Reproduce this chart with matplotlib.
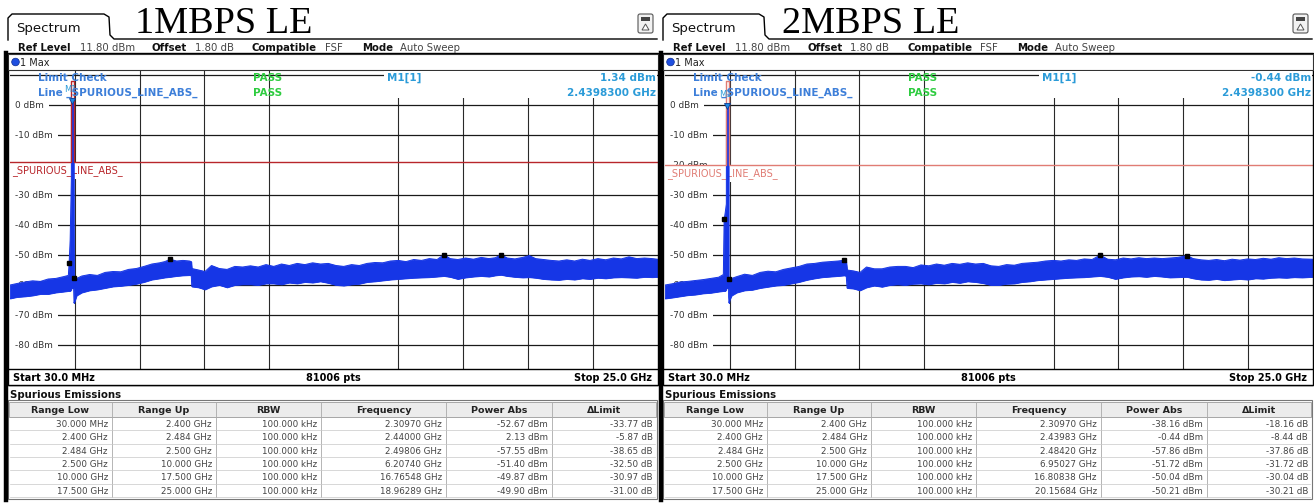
import numpy as np
import matplotlib
matplotlib.use("Agg")
import matplotlib.pyplot as plt
from matplotlib.patches import Rectangle, FancyBboxPatch, Polygon, Circle

W, H = 1314, 503

f_start, f_stop = 0.03, 25.0      # GHz
ref_level, y_bottom = 11.8, -88.2   # dBm
titles = ["1MBPS LE", "2MBPS LE"]
limit_abs = [-18.9, -20.0]
limit_inband = 8.0
band_lo, band_hi = 2.400, 2.484
m1_freq = [2.43983, 2.43983]
m1_power = [1.34, -0.44]

# max-hold trace envelope, 1 Mbps (GHz, lower dBm, upper dBm)
env1_f = [0.03, 0.30, 0.60, 0.90, 1.20, 1.50, 1.80, 2.10, 2.28, 2.31, 2.35, 2.395,
          2.40, 2.42, 2.44, 2.46, 2.484, 2.49, 2.498, 2.52, 2.60, 2.80, 3.10, 3.40,
          3.70, 4.00, 4.30, 4.60, 4.90, 5.20, 5.50, 5.80, 6.00, 6.2074, 6.45, 6.70,
          6.95, 7.02, 7.04, 7.30, 7.55, 7.80, 8.10, 8.40, 8.70, 9.00, 9.30, 9.60,
          9.90, 10.20, 10.50, 10.80, 11.10, 11.40, 11.70, 12.00, 12.30, 12.60, 12.90,
          13.20, 13.50, 13.80, 14.10, 14.40, 14.70, 15.00, 15.30, 15.60, 15.90, 16.20,
          16.50, 16.7655, 17.00, 17.30, 17.60, 17.90, 18.20, 18.50, 18.75, 18.9629,
          19.20, 19.50, 19.80, 20.05, 20.30, 20.60, 20.90, 21.20, 21.50, 21.80, 22.10,
          22.40, 22.70, 23.00, 23.30, 23.60, 23.90, 24.20, 24.50, 24.80, 25.00]
env1_lo = [-64.5, -64.0, -63.8, -63.5, -63.0, -63.0, -62.5, -62.2, -62.0, -62.0, -62.0, -61.5,
           -61.0, -61.0, -61.0, -61.0, -61.0, -63.0, -66.0, -65.5, -63.5, -62.5, -61.8, -61.5,
           -61.0, -60.5, -60.3, -60.0, -59.6, -59.0, -58.2, -57.8, -57.5, -57.3, -57.0, -56.8,
           -56.7, -56.8, -60.5, -60.8, -61.5, -60.5, -60.0, -60.8, -60.0, -59.8, -59.8, -60.0,
           -59.5, -59.5, -59.8, -59.2, -59.5, -59.0, -59.2, -58.8, -59.3, -60.0, -60.2,
           -59.8, -59.6, -59.0, -58.8, -58.5, -58.2, -58.0, -57.8, -57.6, -57.5, -57.4,
           -57.2, -57.0, -57.3, -58.0, -57.5, -57.2, -57.0, -57.2, -56.8, -56.6,
           -57.0, -57.3, -57.5, -57.4, -57.6, -58.0, -58.2, -58.3, -58.0, -58.2, -57.8,
           -58.0, -57.6, -57.8, -57.5, -57.4, -57.5, -57.6, -57.3, -57.4, -57.3]
env1_hi = [-60.0, -59.5, -59.0, -58.6, -58.8, -58.0, -57.8, -57.2, -56.8, -52.67, -45.0, -25.0,
           0.0, 1.5, 2.13, 1.5, 0.0, -40.0, -57.55, -58.0, -57.8, -57.0, -56.5, -56.8,
           -55.8, -55.5, -55.6, -54.8, -54.5, -53.8, -53.0, -52.6, -52.2, -51.40, -52.0, -51.8,
           -52.0, -52.2, -54.5, -55.0, -55.5, -53.5, -54.5, -54.8, -53.8, -54.0, -53.6, -54.0,
           -53.2, -53.8, -53.0, -53.5, -52.8, -53.2, -52.6, -53.0, -52.8, -53.5, -53.8,
           -53.2, -53.5, -52.8, -52.5, -52.6, -52.0, -51.8, -52.2, -51.5, -51.8, -51.2,
           -51.5, -49.87, -51.2, -51.5, -51.0, -51.4, -50.8, -51.2, -50.9, -49.90,
           -51.0, -51.3, -50.8, -50.2, -51.2, -51.5, -51.8, -52.0, -51.6, -52.0, -51.4,
           -51.8, -51.2, -51.6, -51.0, -51.3, -50.6, -51.2, -51.0, -51.2, -51.4]

# max-hold trace envelope, 2 Mbps
env2_f = [0.03, 0.30, 0.60, 0.90, 1.20, 1.50, 1.80, 2.10, 2.28, 2.3097, 2.35, 2.395,
          2.40, 2.42, 2.43983, 2.46, 2.482, 2.4842, 2.50, 2.52, 2.60, 2.80, 3.10, 3.40,
          3.70, 4.00, 4.30, 4.60, 4.90, 5.20, 5.50, 5.80, 6.10, 6.40, 6.70, 6.95027,
          7.02, 7.05, 7.30, 7.55, 7.80, 8.10, 8.40, 8.70, 9.00, 9.30, 9.60, 9.90,
          10.20, 10.50, 10.80, 11.10, 11.40, 11.70, 12.00, 12.30, 12.60, 12.90, 13.20,
          13.50, 13.80, 14.10, 14.40, 14.70, 15.00, 15.30, 15.60, 15.90, 16.20, 16.50,
          16.80838, 17.10, 17.40, 17.70, 18.00, 18.30, 18.60, 18.90, 19.20, 19.50,
          19.80, 20.15684, 20.40, 20.70, 21.00, 21.30, 21.60, 21.90, 22.20, 22.50,
          22.80, 23.10, 23.40, 23.70, 24.00, 24.30, 24.60, 25.00]
env2_lo = [-64.5, -64.2, -63.8, -63.4, -63.2, -62.8, -62.6, -62.2, -62.0, -62.0, -62.0, -61.5,
           -61.0, -61.0, -61.0, -61.0, -61.0, -64.0, -66.0, -65.0, -63.5, -62.5, -61.8, -61.6,
           -61.0, -60.6, -60.2, -60.0, -59.5, -59.0, -58.3, -57.8, -57.4, -57.2, -57.0, -56.8,
           -57.0, -61.0, -61.2, -61.8, -60.8, -60.2, -60.6, -60.0, -59.8, -60.0, -59.6, -59.5,
           -59.8, -59.3, -59.5, -59.0, -59.3, -58.8, -59.0, -59.4, -60.0, -60.0, -59.6,
           -59.5, -59.0, -58.8, -58.4, -58.2, -58.0, -57.8, -57.6, -57.5, -57.4, -57.2,
           -57.0, -57.3, -58.0, -57.5, -57.2, -57.1, -57.3, -57.0, -57.2, -57.5,
           -57.4, -57.3, -57.8, -58.2, -58.3, -58.0, -58.4, -58.2, -58.0, -58.2,
           -57.8, -57.9, -57.6, -57.5, -57.6, -57.4, -57.5, -57.3]
env2_hi = [-60.0, -59.6, -59.0, -58.8, -58.5, -58.2, -57.8, -57.4, -56.5, -38.16, -36.0, -33.0,
           -2.0, -0.8, -0.44, -0.8, -2.0, -57.86, -58.2, -58.0, -57.8, -57.2, -56.4, -56.8,
           -55.8, -55.4, -55.6, -54.8, -54.3, -53.8, -53.0, -52.8, -52.4, -52.2, -52.0, -51.72,
           -52.2, -55.0, -55.3, -55.8, -54.0, -54.6, -54.6, -54.0, -53.8, -53.8, -54.2, -53.3,
           -53.6, -53.0, -53.4, -52.8, -53.1, -52.6, -53.0, -52.8, -53.6, -53.8, -53.2,
           -53.4, -52.8, -52.6, -52.4, -52.0, -51.8, -52.0, -51.6, -51.8, -51.3, -51.5,
           -50.04, -51.4, -51.6, -51.0, -51.3, -50.9, -51.2, -51.0, -51.2, -51.0,
           -50.8, -50.21, -51.2, -51.6, -51.8, -51.5, -51.9, -51.4, -51.7, -51.3,
           -51.5, -51.1, -51.4, -50.9, -51.2, -51.0, -51.3, -51.4]

# spurious emission tables
range_low = ["30.000 MHz", "2.400 GHz", "2.484 GHz", "2.500 GHz", "10.000 GHz", "17.500 GHz"]
range_up = ["2.400 GHz", "2.484 GHz", "2.500 GHz", "10.000 GHz", "17.500 GHz", "25.000 GHz"]
rbw = ["100.000 kHz"] * 6
peak1_f = [2.30970, 2.44000, 2.49806, 6.20740, 16.76548, 18.96289]
peak1_p = [-52.67, 2.13, -57.55, -51.40, -49.87, -49.90]
peak1_d = [-33.77, -5.87, -38.65, -32.50, -30.97, -31.00]
peak2_f = [2.30970, 2.43983, 2.48420, 6.95027, 16.80838, 20.15684]
peak2_p = [-38.16, -0.44, -57.86, -51.72, -50.04, -50.21]
peak2_d = [-18.16, -8.44, -37.86, -31.72, -30.04, -30.21]

envs = [(env1_f, env1_lo, env1_hi), (env2_f, env2_lo, env2_hi)]
peaks = [(peak1_f, peak1_p, peak1_d), (peak2_f, peak2_p, peak2_d)]
limit_colors = ["#b8262b", "#e07c74"]
trace_color = "#1636e6"
legend_blue = "#3d7fd9"
marker_blue = "#2b9bd8"
pass_green = "#2ecc40"

plt.rcParams['font.family'] = ['DejaVu Sans']

fig = plt.figure(figsize=(W / 100, H / 100), dpi=100)
fig.patch.set_facecolor("white")


def px_rect(x0, y0, x1, y1):
    return [x0 / W, 1 - y1 / H, (x1 - x0) / W, (y1 - y0) / H]


ov = fig.add_axes([0, 0, 1, 1], zorder=10)
ov.set_xlim(0, W)
ov.set_ylim(H, 0)
ov.axis("off")

for i, ox in enumerate([0, 655]):
    # ---------- diagram ----------
    ax = fig.add_axes(px_rect(ox + 10, 69.6, ox + 657.5, 369.6), zorder=2)
    ax.set_xlim(f_start, f_stop)
    ax.set_ylim(y_bottom, ref_level)
    ax.axis("off")

    div = (f_stop - f_start) / 10
    for k in [1, 2, 3, 4, 6, 7, 8, 9]:
        ax.axvline(f_start + k * div, color="#2a2a2a", lw=0.8, zorder=1)
    for lev in [10, 0, -10, -20, -30, -40, -50, -60, -70, -80]:
        if lev != -20:
            ax.axhline(lev, color="#1a1a1a", lw=0.9, zorder=1)
        if lev < 10 and not (lev == -20 and i == 0):
            ax.annotate(f"{lev} dBm", xy=(0, lev), xycoords=("axes fraction", "data"),
                        xytext=(5, 0), textcoords="offset pixels", va="center",
                        fontsize=6.4, color="#333333", zorder=2,
                        bbox=dict(boxstyle="square,pad=0.55", fc="white", ec="none"))

    lim = limit_abs[i]
    ax.annotate("_SPURIOUS_LINE_ABS_", xy=(0, lim), xycoords=("axes fraction", "data"),
                xytext=(2, -9), textcoords="offset pixels", va="center",
                fontsize=7, color=limit_colors[i], zorder=2,
                bbox=dict(boxstyle="square,pad=0.25", fc="white", ec="none"))

    ef, elo, ehi = envs[i]
    ax.fill_between(ef, elo, ehi, color=trace_color, lw=0.6, zorder=3)
    ax.plot(ef, ehi, color=trace_color, lw=0.7, zorder=3)
    ax.plot(ef, elo, color=trace_color, lw=0.7, zorder=3)

    ax.plot([f_start, band_lo, band_lo, band_hi, band_hi, f_stop],
            [lim, lim, limit_inband, limit_inband, lim, lim],
            color=limit_colors[i], lw=1.0, zorder=4)

    pf, pp, pd = peaks[i]
    sq_f = [pf[j] for j in range(6) if j != 1]
    sq_p = [pp[j] for j in range(6) if j != 1]
    ax.plot(sq_f, sq_p, "s", color="black", ms=3, zorder=5)
    ax.plot(m1_freq[i], m1_power[i], "v", color="#1e88e5", mec="#0b3d91", mew=0.6,
            ms=5, zorder=6)
    ax.annotate("M1", xy=(m1_freq[i], m1_power[i]), xytext=(-8, 9),
                textcoords="offset pixels", fontsize=6, color=marker_blue, zorder=6)

    # ---------- screen chrome ----------
    # tab
    tab_x = [ox + 8, ox + 8, ox + 12, ox + 104, ox + 109, ox + 110, ox + 114, ox + 657]
    tab_y = [40, 18, 14, 14, 17, 35, 39, 39]
    ov.plot(tab_x, tab_y, color="black", lw=1.0)
    ov.text(ox + 16, 27, "Spectrum", fontsize=9.5, va="center_baseline", color="#111111")
    ov.text(ox + [135, 127][i], 33, titles[i], family="Liberation Serif", fontsize=27.5,
            va="baseline", color="black")

    # icon
    ov.add_patch(FancyBboxPatch((ox + 638, 14), 15, 19, boxstyle="round,pad=0,rounding_size=2",
                                fc="#f2f2f2", ec="#555555", lw=0.8))
    ov.add_patch(Rectangle((ox + 641, 17), 9, 4, fc="#444444", ec="none"))
    ov.add_patch(Polygon([[ox + 642, 30], [ox + 645.5, 24], [ox + 649, 30]], closed=True,
                         fc="white", ec="#555555", lw=0.7))

    # setting row
    items = [("Ref Level", 18, "bold"), ("11.80 dBm", 80, "normal"), ("Offset", 152, "bold"),
             ("1.80 dB", 195, "normal"), ("Compatible", 252, "bold"), ("FSF", 325, "normal"),
             ("Mode", 362, "bold"), ("Auto Sweep", 400, "normal")]
    for s, x, wgt in items:
        ov.text(ox + x, 46.5, s, fontsize=7.3, fontweight=wgt, va="center_baseline",
                color="#111111" if wgt == "bold" else "#444444")

    # diagram frame, trace row, bottom bar
    ov.add_patch(Rectangle((ox + 8, 53), 650, 332, fc="none", ec="black", lw=1.0))
    ov.add_patch(Rectangle((ox + 8, 54), 650, 15.5, fc="white", ec="#333333", lw=0.8))
    ov.add_patch(Circle((ox + 15.5, 62), 3.8, fc="#1f4fe0", ec="#0a2a90", lw=0.5))
    ov.text(ox + 20, 62, "1 Max", fontsize=7, va="center_baseline", color="#222222")
    ov.add_patch(Rectangle((ox + 8, 368.5), 650, 16.5, fc="white", ec="black", lw=1.0))
    ov.text(ox + 13, 377, "Start 30.0 MHz", fontsize=7, fontweight="bold", va="center_baseline")
    ov.text(ox + 333, 377, "81006 pts", fontsize=7, fontweight="bold", va="center_baseline",
            ha="center")
    ov.text(ox + 652, 377, "Stop 25.0 GHz", fontsize=7, fontweight="bold", va="center_baseline",
            ha="right")
    ov.plot([ox + 6, ox + 6], [53, 500], color="black", lw=3.2)

    # limit / marker info
    ov.add_patch(Rectangle((ox + 384, 70.5), 273, 27.5, fc="white", ec="none"))
    ov.text(ox + 38, 77, "Limit Check", fontsize=7.5, fontweight="bold", color=legend_blue,
            va="center_baseline")
    ov.text(ox + 38, 92, "Line _SPURIOUS_LINE_ABS_", fontsize=7.5, fontweight="bold",
            color=legend_blue, va="center_baseline")
    ov.text(ox + 253, 77, "PASS", fontsize=7.5, fontweight="bold", color=pass_green,
            va="center_baseline")
    ov.text(ox + 253, 92, "PASS", fontsize=7.5, fontweight="bold", color=pass_green,
            va="center_baseline")
    ov.text(ox + 387, 77, "M1[1]", fontsize=7.5, fontweight="bold", color=marker_blue,
            va="center_baseline")
    ov.text(ox + 656, 77, f"{m1_power[i]:.2f} dBm", fontsize=7.5, fontweight="bold",
            color=marker_blue, va="center_baseline", ha="right")
    ov.text(ox + 656, 92, f"{m1_freq[i]:.7f} GHz", fontsize=7.5, fontweight="bold",
            color=marker_blue, va="center_baseline", ha="right")

    # ---------- spurious emissions table ----------
    ov.text(ox + 10, 393.5, "Spurious Emissions", fontsize=7.3, fontweight="bold",
            va="center_baseline", color="#111111")
    cols = [8, 112, 216, 321, 446, 552, 657]
    heads = ["Range Low", "Range Up", "RBW", "Frequency", "Power Abs", "\u0394Limit"]
    ov.add_patch(Rectangle((ox + 8, 400), 649, 99, fc="white", ec="#777777", lw=0.8))
    ov.add_patch(Rectangle((ox + 9, 401.5), 647, 15.5, fc="#ececec", ec="#999999", lw=0.6))
    for c in range(6):
        ov.text(ox + (cols[c] + cols[c + 1]) / 2, 409.5, heads[c], fontsize=6.8,
                fontweight="bold", ha="center", va="center_baseline", color="#222222")
        if c > 0:
            ov.plot([ox + cols[c], ox + cols[c]], [402, 497], color="#aaaaaa", lw=0.6)
    row_h = 13.3
    for r in range(6):
        yc = 417 + row_h * (r + 0.5)
        ov.plot([ox + 10, ox + 655], [417 + row_h * (r + 1)] * 2, color="#c8c8c8", lw=0.5)
        vals = [range_low[r], range_up[r], rbw[r], f"{pf[r]:.5f} GHz",
                f"{pp[r]:.2f} dBm", f"{pd[r]:.2f} dB"]
        for c in range(6):
            ov.text(ox + cols[c + 1] - 4, yc, vals[c], fontsize=6.3, ha="right",
                    va="center_baseline", color="#444444")

fig.savefig("out.png", dpi=100, facecolor="white")
